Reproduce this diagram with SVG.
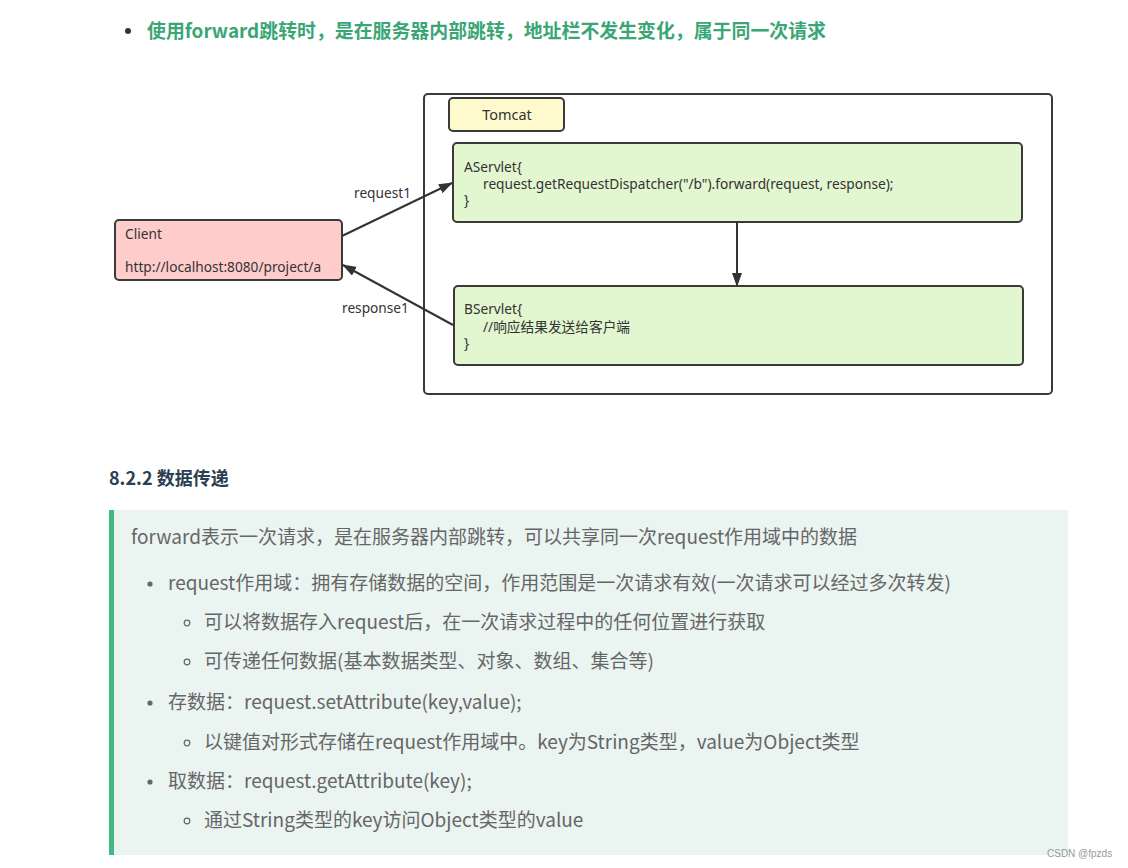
<svg xmlns="http://www.w3.org/2000/svg" width="1128" height="868" viewBox="0 0 1128 868">
<style>
.box{stroke:#3a3a3a;stroke-width:2}
.dt{font-family:"Noto Sans","Noto Sans CJK SC",sans-serif;font-size:13.7px;fill:#333}
.conn{stroke:#333;stroke-width:2;fill:none}
.md{font-family:"Noto Sans CJK SC",sans-serif;font-size:19px;fill:#666}
.dot{fill:#666}
.circ{fill:none;stroke:#666;stroke-width:1.2}
</style>
<defs>
<marker id="ah" viewBox="0 0 14 10" refX="13" refY="5" markerWidth="14" markerHeight="10" orient="auto" markerUnits="userSpaceOnUse"><path d="M0,0 L14,5 L0,10 z" fill="#333"/></marker>
</defs>
<rect width="1128" height="868" fill="#fff"/>
<g id="title">
<circle cx="128" cy="31" r="3" fill="#333"/>
<text x="147" y="38" font-family="'Noto Sans CJK SC',sans-serif" font-size="18.9" font-weight="bold" fill="#3aa675">使用forward跳转时，是在服务器内部跳转，地址栏不发生变化，属于同一次请求</text>
</g>
<g id="tomcat-container">
<rect class="box" x="424" y="94" width="628" height="300" rx="4" fill="#fff"/>
</g>
<g id="tomcat-label">
<rect class="box" x="449" y="98" width="115" height="33" rx="4" fill="#fffacd"/>
<text class="dt" x="507" y="120" text-anchor="middle" style="font-size:14.5px">Tomcat</text>
</g>
<g id="aservlet">
<rect class="box" x="453" y="143" width="569" height="79" rx="4" fill="#e2f6cf"/>
<text class="dt" x="464" y="172">AServlet{</text>
<text class="dt" x="483" y="189">request.getRequestDispatcher("/b").forward(request, response);</text>
<text class="dt" x="464" y="205">}</text>
</g>
<g id="bservlet">
<rect class="box" x="454" y="286" width="569" height="79" rx="4" fill="#e2f6cf"/>
<text class="dt" x="464" y="314">BServlet{</text>
<text class="dt" x="483" y="332">//响应结果发送给客户端</text>
<text class="dt" x="464" y="348">}</text>
</g>
<g id="client">
<rect class="box" x="115" y="220" width="227" height="60" rx="4" fill="#ffcccc"/>
<text class="dt" x="125" y="239">Client</text>
<text class="dt" x="125" y="272">http://localhost:8080/project/a</text>
</g>
<g id="connectors">
<line class="conn" x1="342" y1="236" x2="452" y2="183" marker-end="url(#ah)"/>
<line class="conn" x1="453" y1="325" x2="343" y2="265" marker-end="url(#ah)"/>
<line class="conn" x1="737" y1="222" x2="737" y2="286" marker-end="url(#ah)"/>
<text class="dt" x="354" y="198">request1</text>
<text class="dt" x="342" y="313">response1</text>
</g>
<g id="section">
<text x="109" y="485" font-family="'Noto Sans CJK SC',sans-serif" font-size="18" font-weight="bold" fill="#2c3e50">8.2.2 数据传递</text>
<rect x="109" y="510" width="959" height="345" fill="#eaf4f1"/>
<rect x="109" y="510" width="5" height="345" fill="#42b983"/>
<text class="md" x="131" y="544">forward表示一次请求，是在服务器内部跳转，可以共享同一次request作用域中的数据</text>
<circle class="dot" cx="150" cy="584" r="2.6"/>
<text class="md" x="168" y="590">request作用域：拥有存储数据的空间，作用范围是一次请求有效(一次请求可以经过多次转发)</text>
<circle class="circ" cx="187" cy="623" r="2.8"/>
<text class="md" x="204" y="629">可以将数据存入request后，在一次请求过程中的任何位置进行获取</text>
<circle class="circ" cx="187" cy="662" r="2.8"/>
<text class="md" x="204" y="668">可传递任何数据(基本数据类型、对象、数组、集合等)</text>
<circle class="dot" cx="150" cy="703" r="2.6"/>
<text class="md" x="168" y="709">存数据：request.setAttribute(key,value);</text>
<circle class="circ" cx="187" cy="743" r="2.8"/>
<text class="md" x="204" y="749">以键值对形式存储在request作用域中。key为String类型，value为Object类型</text>
<circle class="dot" cx="150" cy="782" r="2.6"/>
<text class="md" x="168" y="788">取数据：request.getAttribute(key);</text>
<circle class="circ" cx="187" cy="821" r="2.8"/>
<text class="md" x="204" y="827">通过String类型的key访问Object类型的value</text>
</g>
<text x="1047" y="857" font-family="'Liberation Sans',sans-serif" font-size="10" fill="#999">CSDN @fpzds</text>
</svg>
